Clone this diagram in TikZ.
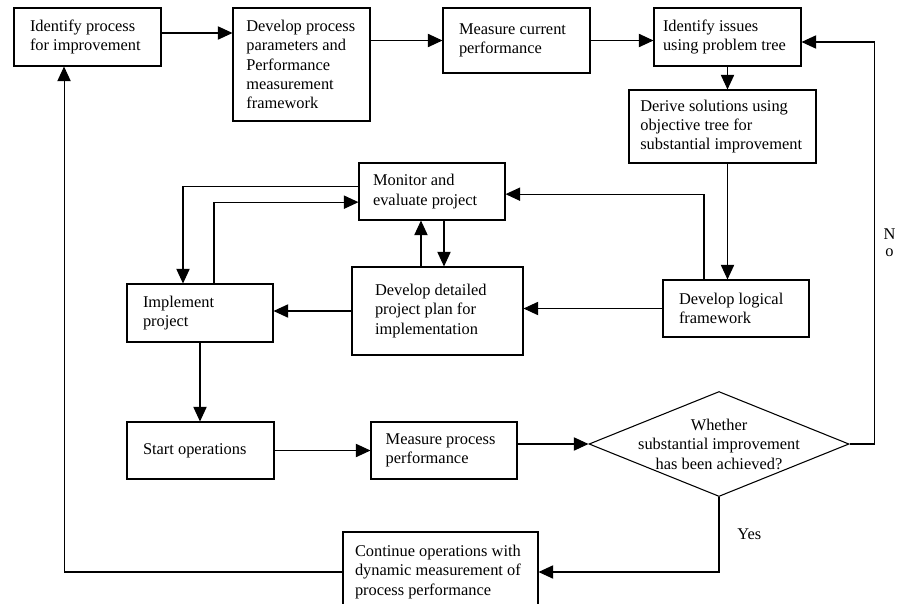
\documentclass[tikz,border=0pt]{standalone}
\usepackage{fontspec}
\setmainfont{Liberation Serif}
\usetikzlibrary{positioning, arrows.meta, shapes.geometric, calc}

\begin{document}
\begin{tikzpicture}[x=0.75pt, y=-0.75pt, line width=0.8pt,
        >={Triangle[length=11pt,width=10pt]},
        every node/.style={font=\fontsize{12.3}{14.4}\selectfont},
        box/.style={draw, rectangle, align=flush left, inner ysep=0pt, inner xsep=12pt},
        decision/.style={draw, diamond, inner sep=0pt, minimum width=195pt, minimum height=78.75pt}]
        \useasboundingbox (0,0) rectangle (898,603);

        \node[box, text width=86.25pt, minimum height=43.5pt] (idp) at (87.5,37) {Identify process\\for improvement};
        \node[box, text width=82.75pt, inner xsep=10pt, minimum height=84.75pt] (dpp) at (301.5,64.5) {Develop process\\parameters and\\Performance\\measurement\\framework};
        \node[box, text width=86.25pt, minimum height=48.75pt] (mcp) at (516.5,40.5) {Measure current\\performance};
        \node[box, text width=96.75pt, inner xsep=6.75pt, minimum height=43.5pt] (iss) at (727.5,37) {Identify issues\\using problem tree};
        \node[box, text width=123.25pt, inner xsep=8.5pt, minimum height=54.75pt] (drv) at (722.5,126.5) {Derive solutions using\\objective tree for\\substantial improvement};
        \node[box, text width=88.5pt, inner xsep=10.5pt, minimum height=42.75pt] (mon) at (432,191.5) {Monitor and\\evaluate project};
        \node[box, text width=93.75pt, inner xsep=17.25pt, minimum height=66pt] (plan) at (437.5,311) {Develop detailed\\project plan for\\implementation};
        \node[box, text width=85.5pt, minimum height=43.5pt] (impl) at (200,313) {Implement\\project};
        \node[box, text width=85.5pt, minimum height=42.75pt] (lfw) at (736,308.5) {Develop logical\\framework};
        \node[box, text width=86.25pt, minimum height=42.75pt] (start) at (200.5,450.5) {Start operations};
        \node[box, text width=87.5pt, inner xsep=11pt, minimum height=42.75pt] (mpp) at (444,450.5) {Measure process\\performance};
        \node[box, text width=128.25pt, inner xsep=9pt, minimum height=60pt] (cont) at (440.5,572) {Continue operations with\\dynamic measurement of\\process performance};
        \node[decision] (dia) at (719,444) {};
        \node[align=center, font=\fontsize{12.3}{14.6}\selectfont] (diatext) at (dia.center) {Whether\\substantial improvement\\has been achieved?};

        \draw[->] ([yshift=3pt]idp.east) -- ([yshift=3pt]idp.east -| dpp.west);
        \draw[->] (mcp.west -| dpp.east) -- (mcp.west);
        \draw[->] (mcp.east) -- (mcp.east -| iss.west);
        \draw[->] (iss.south) -- (iss.south |- drv.north);
        \draw[->] (drv.south -| iss.south) -- (lfw.north -| iss.south);
        \draw[->] ([xshift=-24pt]lfw.north) |- ([yshift=-2pt]mon.east);
        \draw[->] (lfw.west) -- (lfw.west -| plan.east);
        \draw[->] ([xshift=-12.4pt]plan.north) -- ([xshift=-12.4pt]plan.north |- mon.south);
        \draw[->] ([xshift=9pt]mon.south) -- ([xshift=9pt]mon.south |- plan.north);
        \draw[->] (plan.west) -- (plan.west -| impl.east);
        \draw[->] ([yshift=4pt]mon.west) -| ([xshift=-12.75pt]impl.north);
        \draw[->] ([xshift=10.5pt]impl.north) |- ([yshift=-8pt]mon.west);
        \draw[->] (impl.south) -- (impl.south |- start.north);
        \draw[->] (start.east) -- (start.east -| mpp.west);
        \draw[->] (dia.west -| mpp.east) -- (dia.west);
        \draw[->] (dia.east) -- ++(18.75pt,0) |- ([yshift=-3.75pt]iss.east)
            node[pos=0.25, right=3pt, align=center, font=\fontsize{12.3}{12.5}\selectfont] {N\\o};
        \draw[->] (dia.south) |- (cont.east) node[pos=0.25, right=10pt] {Yes};
        \draw[->] (cont.west) -| ([xshift=-17.6pt]idp.south);
\end{tikzpicture}
\end{document}
